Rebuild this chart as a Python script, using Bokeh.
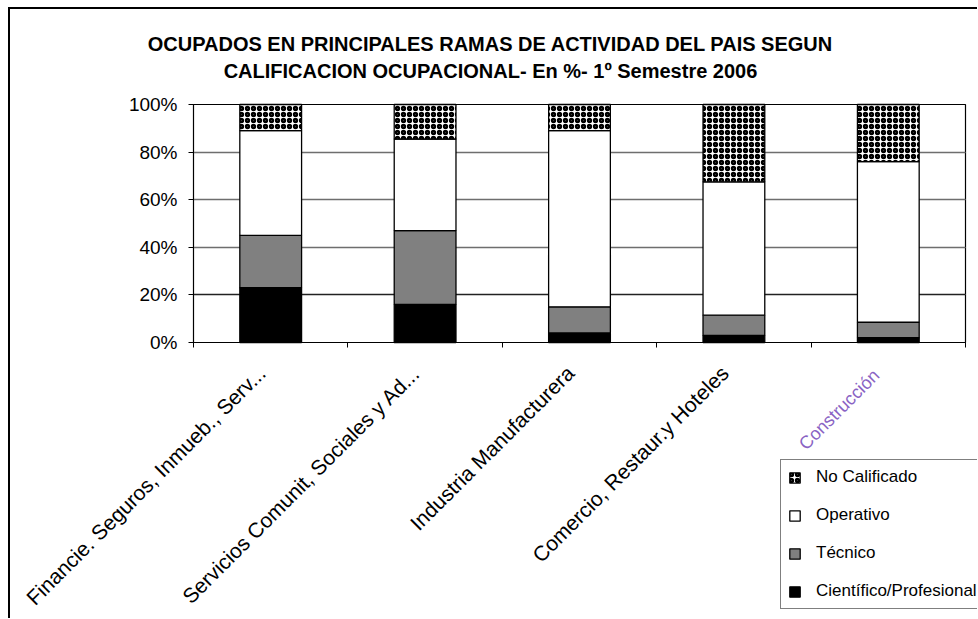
import math
from bokeh.plotting import figure
from bokeh.models import (FactorRange, Range1d, LinearAxis, FixedTicker, PrintfTickFormatter,
                          Legend, LegendItem, Label, Grid, ColumnDataSource, GridBox)
from bokeh.embed import file_html
from bokeh.resources import INLINE

# ---------------- data ----------------
categories = ["Financie. Seguros, Inmueb., Serv...",
              "Servicios Comunit, Sociales y Ad...",
              "Industria Manufacturera",
              "Comercio, Restaur.y Hoteles",
              "Construcción"]
cientifico = [23, 16, 4, 3, 2]
tecnico = [22, 31, 11, 8.5, 6.5]
operativo = [44, 38.5, 74, 56, 67.5]
no_calificado = [11, 14.5, 11, 32.5, 24]
series_names = ["Científico/Profesional", "Técnico", "Operativo", "No Calificado"]
series_fill = ["black", "#808080", "white", "white"]
y_ticks = [0, 20, 40, 60, 80, 100]
grid_ticks_grey = [40, 60, 80]
grid_ticks_dark = [20]
title_lines = ["OCUPADOS EN PRINCIPALES RAMAS DE ACTIVIDAD DEL PAIS SEGUN",
               "CALIFICACION OCUPACIONAL- En %- 1º Semestre 2006"]

FONT = "Liberation Sans"

# ---------------- layout (pixels) ----------------
LEFT, FW, RIGHT = 183, 772, 12
TOP, FH, BOTTOM = 95, 238, 276
W, H = LEFT + FW + RIGHT, TOP + FH + BOTTOM
n = len(categories)
ymax = y_ticks[-1]

HATCH = dict(hatch_pattern="ring", hatch_color="black", hatch_scale=6, hatch_weight=2.4)

# position of each category on the (synthetic) categorical axis: its centre
source = ColumnDataSource(dict(cat=categories, xc=[i + 0.5 for i in range(n)],
                               cien=cientifico, tec=tecnico,
                               oper=operativo, nc=no_calificado))

# ---------------- axes, grid and plot frame ----------------
p = figure(x_range=FactorRange(*categories), y_range=Range1d(0, ymax),
           frame_width=FW, frame_height=FH, output_backend="svg", toolbar_location=None,
           x_axis_location=None, y_axis_location=None,
           min_border_left=LEFT, min_border_right=RIGHT, min_border_top=TOP,
           min_border_bottom=BOTTOM)
p.background_fill_color = "white"
p.border_fill_color = "white"
p.outline_line_color = "black"
p.outline_line_width = 1.2

yaxis = LinearAxis(ticker=FixedTicker(ticks=y_ticks), formatter=PrintfTickFormatter(format="%d%%"))
yaxis.axis_line_color = "black"
yaxis.major_tick_line_color = "black"
yaxis.major_tick_out = 5
yaxis.major_tick_in = 0
yaxis.minor_tick_line_color = None
yaxis.major_label_text_font = FONT
yaxis.major_label_text_font_size = "19px"
yaxis.major_label_text_color = "black"
yaxis.major_label_standoff = 11
p.add_layout(yaxis, "left")

bounds = list(range(n + 1))
xaxis = LinearAxis(ticker=FixedTicker(ticks=bounds),
                   major_label_overrides={b: "" for b in bounds})
xaxis.axis_line_color = "black"
xaxis.major_tick_line_color = "black"
xaxis.major_tick_out = 5
xaxis.major_tick_in = 0
xaxis.minor_tick_line_color = None
xaxis.major_label_text_font_size = "1px"
p.add_layout(xaxis, "below")

p.add_layout(Grid(dimension=1, ticker=FixedTicker(ticks=grid_ticks_grey),
                  grid_line_color="#6e6e6e", grid_line_width=1.3))
p.add_layout(Grid(dimension=1, ticker=FixedTicker(ticks=grid_ticks_dark),
                  grid_line_color="#222222", grid_line_width=1.3))

# ---------------- overlay: same scales, frame spanning the whole canvas ----------------
q = figure(width=W, height=H, output_backend="svg", toolbar_location=None,
           x_range=Range1d(-LEFT * n / FW, (W - LEFT) * n / FW),
           y_range=Range1d(-BOTTOM * ymax / FH, ymax + TOP * ymax / FH),
           x_axis_location=None, y_axis_location=None,
           min_border_left=0, min_border_right=0, min_border_top=0, min_border_bottom=0)
q.background_fill_color = None
q.border_fill_color = None
q.outline_line_color = None
q.xgrid.visible = False
q.ygrid.visible = False

for fig in (p, q):
    if "frame_align" in fig.properties():
        fig.frame_align = False

# stacked bars
rs = q.vbar_stack(["cien", "tec", "oper", "nc"], x="xc", width=0.4, source=source,
                  fill_color=series_fill, line_color="black", line_width=1.3)
for k, v in HATCH.items():
    setattr(rs[3].glyph, k, v)

# title
for line, yy in zip(title_lines, [H - 34, H - 61]):
    q.add_layout(Label(x=480, y=yy, x_units="screen", y_units="screen", text=line,
                       text_align="center", text_baseline="middle",
                       text_font=FONT, text_font_size="20px", text_font_style="bold",
                       text_color="black"))

# category labels at each category centre
for i, c in enumerate(categories):
    special = c == "Construcción"
    q.add_layout(Label(x=i + 0.5, y=0, x_units="data", y_units="data", text=c,
                       angle=math.pi / 4, text_align="right", text_baseline="middle",
                       x_offset=-12 if special else -9, y_offset=-30 if special else -27,
                       text_font=FONT, text_font_size="18px" if special else "21px",
                       text_color="#8a63c4" if special else "black"))

# legend
items = [LegendItem(label=nm, renderers=[r])
         for nm, r in reversed(list(zip(series_names, rs)))]
legend = Legend(items=items, location=(770, 9), orientation="vertical",
                border_line_color="black", border_line_width=1,
                background_fill_color="white", background_fill_alpha=1,
                padding=7, spacing=18, margin=0, glyph_width=13, glyph_height=13,
                label_height=20, label_standoff=15,
                label_text_font=FONT, label_text_font_size="17px", label_text_color="black")
q.add_layout(legend, "center")

root = GridBox(children=[(p, 0, 0), (q, 0, 0)])
root.styles = {"margin-left": "8px", "margin-top": "7px",
               "border-left": "2px solid black", "border-top": "2px solid black"}

open("out.html", "w").write(file_html(root, INLINE))
